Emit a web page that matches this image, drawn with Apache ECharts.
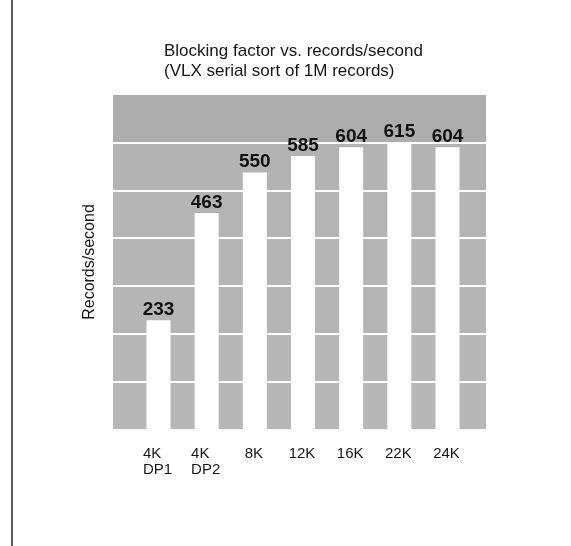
<!DOCTYPE html>
<html>
<head>
<meta charset="utf-8">
<script src="https://cdn.jsdelivr.net/npm/echarts@6/dist/echarts.min.js"></script>
<style>
  html, body { margin: 0; padding: 0; background: #ffffff; }
  #chart { width: 571px; height: 546px; }
</style>
</head>
<body>
<div id="chart"></div>
<script>
// ---- data ----
const categories = ['4K\nDP1', '4K\nDP2', '8K', '12K', '16K', '22K', '24K'];
const recordsPerSecond = [233, 463, 550, 585, 604, 615, 604];
const gridTicks = [0, 100, 200, 300, 400, 500, 600, 700];
const titleLines = ['Blocking factor vs. records/second', '(VLX serial sort of 1M records)'];
const yAxisTitle = 'Records/second';

const FONT = '"Liberation Sans", Arial, Helvetica, sans-serif';
const chart = echarts.init(document.getElementById('chart'), null, { renderer: 'canvas' });

const bandColors = ['#b7b7b7', '#b7b7b7', '#b5b5b5', '#b5b5b5', '#b4b4b4', '#b3b3b3', '#adadad'];

const option = {
  backgroundColor: '#ffffff',
  animation: false,
  title: {
    text: titleLines.join('\n'),
    left: 159,
    top: 36,
    textStyle: { fontFamily: FONT, fontSize: 17, fontWeight: 'normal', color: '#161616', lineHeight: 20 }
  },
  grid: [
    { left: 113, top: 95, width: 373, height: 334 },
    { left: 134.4, top: 95, width: 337.2, height: 334 }
  ],
  xAxis: [
    { gridIndex: 0, type: 'value', min: 0, max: 1, show: false },
    {
      gridIndex: 1,
      type: 'category',
      data: categories,
      boundaryGap: true,
      axisLine: { show: false },
      axisTick: { show: false },
      axisLabel: {
        interval: 0,
        margin: 17,
        padding: [0, 2, 0, 0],
        formatter: function (v) {
          return v.split('\n').map(function (s) { return '{a|' + s + '}'; }).join('\n');
        },
        rich: {
          a: { fontFamily: FONT, fontSize: 15, color: '#161616', lineHeight: 16, align: 'left' }
        }
      }
    }
  ],
  yAxis: [
    {
      gridIndex: 0,
      type: 'value',
      min: gridTicks[0],
      max: gridTicks[gridTicks.length - 1],
      interval: gridTicks[1] - gridTicks[0],
      name: yAxisTitle,
      nameLocation: 'middle',
      nameGap: 15,
      nameTextStyle: { fontFamily: FONT, fontSize: 16, color: '#161616' },
      axisLine: { show: false },
      axisTick: { show: false },
      axisLabel: { show: false },
      splitLine: { show: true, showMinLine: false, showMaxLine: false, lineStyle: { color: '#ffffff', width: 2 } },
      splitArea: { show: true, areaStyle: { color: bandColors } }
    },
    {
      gridIndex: 1,
      type: 'value',
      min: 0,
      max: 716,
      show: false,
      splitLine: { show: false }
    }
  ],
  series: [
    {
      type: 'bar',
      xAxisIndex: 1,
      yAxisIndex: 1,
      data: recordsPerSecond,
      barWidth: 24,
      itemStyle: { color: '#ffffff' },
      label: {
        show: true,
        position: 'top',
        distance: 1,
        fontFamily: FONT,
        fontSize: 19,
        fontWeight: 'bold',
        color: '#111111'
      }
    }
  ],
  graphic: [
    { type: 'line', shape: { x1: 12, y1: 0, x2: 12, y2: 546 }, style: { stroke: '#222222', lineWidth: 1.5 } }
  ]
};
chart.setOption(option);
</script>
</body>
</html>
